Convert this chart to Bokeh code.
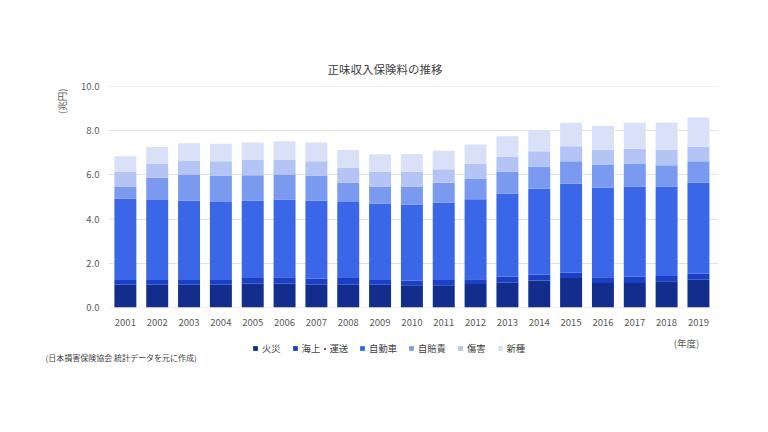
from bokeh.plotting import figure
from bokeh.layouts import column
from bokeh.models import (ColumnDataSource, FixedTicker, NumeralTickFormatter, Range1d,
                          Legend, LegendItem, Title, Label)
from bokeh.embed import file_html
from bokeh.resources import INLINE

years = [2001, 2002, 2003, 2004, 2005, 2006, 2007, 2008, 2009, 2010,
         2011, 2012, 2013, 2014, 2015, 2016, 2017, 2018, 2019]
fire = [1.03, 1.03, 1.03, 1.03, 1.07, 1.07, 1.03, 1.03, 1.03, 1.00,
        1.00, 1.06, 1.12, 1.22, 1.33, 1.10, 1.10, 1.18, 1.25]
marine = [0.21, 0.21, 0.21, 0.21, 0.26, 0.29, 0.28, 0.30, 0.21, 0.22,
          0.24, 0.22, 0.27, 0.27, 0.24, 0.27, 0.29, 0.24, 0.27]
auto = [3.68, 3.62, 3.59, 3.53, 3.50, 3.53, 3.52, 3.44, 3.45, 3.44,
        3.51, 3.62, 3.77, 3.88, 4.03, 4.06, 4.09, 4.06, 4.12]
cali = [0.56, 1.01, 1.19, 1.20, 1.16, 1.13, 1.14, 0.89, 0.79, 0.82,
        0.90, 0.94, 0.98, 1.01, 1.02, 1.04, 1.04, 0.96, 0.98]
injury = [0.66, 0.65, 0.63, 0.65, 0.69, 0.66, 0.65, 0.66, 0.66, 0.66,
          0.61, 0.68, 0.69, 0.69, 0.68, 0.66, 0.67, 0.69, 0.67]
misc = [0.71, 0.75, 0.79, 0.79, 0.79, 0.85, 0.85, 0.81, 0.80, 0.81,
        0.83, 0.86, 0.92, 0.98, 1.06, 1.09, 1.17, 1.24, 1.31]

series_names = ["火災", "海上・運送", "自動車", "自賠責", "傷害", "新種"]
series_keys = ["fire", "marine", "auto", "cali", "injury", "misc"]
colors = ["#122d8c", "#1a40c4", "#3a66e8", "#799aee", "#b4c4f4", "#d9e1f9"]

title_text = "正味収入保険料の推移"
y_unit = "(兆円)"
x_unit = "(年度)"
source_note = "(日本損害保険協会 統計データを元に作成)"
y_ticks = [0, 2, 4, 6, 8, 10]

FONT = "Noto Sans CJK JP"

src = ColumnDataSource(dict(x=years, fire=fire, marine=marine, auto=auto,
                            cali=cali, injury=injury, misc=misc))

xr = Range1d(2000.47, 2019.63)

# ---------------- main chart ----------------
p = figure(width=760, height=334, output_backend="svg", toolbar_location=None,
           x_range=xr, y_range=Range1d(-0.005, 10.005),
           min_border_left=108, min_border_right=42,
           min_border_top=86, min_border_bottom=27)
p.outline_line_color = None
p.background_fill_color = "white"
p.border_fill_color = "white"

p.vbar_stack(series_keys, x="x", width=0.69, source=src, color=colors, line_color=None)

p.title.text = title_text
p.title.align = "left"
p.title.offset = 219
p.title.standoff = 20
p.title.text_font = FONT
p.title.text_font_size = "11.5px"
p.title.text_font_style = "normal"
p.title.text_color = "#404040"

p.xaxis.ticker = FixedTicker(ticks=years)
p.yaxis.ticker = FixedTicker(ticks=y_ticks)
p.yaxis.formatter = NumeralTickFormatter(format="0.0")
for ax in (p.xaxis[0], p.yaxis[0]):
    ax.axis_line_color = None
    ax.major_tick_line_color = None
    ax.minor_tick_line_color = None
    ax.major_tick_out = 0
    ax.major_tick_in = 0
    ax.minor_tick_out = 0
    ax.major_label_text_font = FONT
    ax.major_label_text_font_size = "9.5px"
    ax.major_label_text_color = "#595959"
p.xaxis.major_label_standoff = 11
p.yaxis.major_label_standoff = 9

p.xgrid.grid_line_color = None
p.ygrid.ticker = FixedTicker(ticks=y_ticks)
p.ygrid.grid_line_color = "#e2e2e2"
p.ygrid.grid_line_width = 1

p.add_layout(Title(text=y_unit, align="right", offset=2, standoff=20,
                   text_font=FONT, text_font_size="9.5px", text_font_style="normal",
                   text_color="#595959"), "left")

# ---------------- bottom strip: legend and notes ----------------
q = figure(width=760, height=90, output_backend="svg", toolbar_location=None,
           x_range=Range1d(0, 1), y_range=Range1d(50, 60),
           x_axis_type=None, y_axis_type=None,
           min_border_left=0, min_border_right=0, min_border_top=0, min_border_bottom=69)
q.outline_line_color = None
q.grid.visible = False
q.background_fill_color = "white"
q.border_fill_color = "white"

legend_renderers = q.vbar_stack(series_keys, x="x", width=0.69, source=src,
                                color=colors, line_color=None)
for r in legend_renderers:
    r.visible = False
items = [LegendItem(label=n, renderers=[r]) for n, r in zip(series_names, legend_renderers)]
lg = Legend(items=items, orientation="horizontal", location=(144, 0),
            glyph_width=6, glyph_height=6, label_height=10, label_width=10,
            label_standoff=4, spacing=11, padding=0, margin=0,
            border_line_color=None, background_fill_alpha=0,
            inactive_fill_alpha=0, click_policy="none",
            label_text_font=FONT, label_text_font_size="9.3px",
            label_text_color="#404040")
q.add_layout(lg, "center")

q.add_layout(Label(x=578, y=13, x_units="screen", y_units="screen", text=x_unit,
                   text_align="center", text_baseline="middle", text_font=FONT,
                   text_font_size="9.5px", text_color="#595959"))

note = Title(text=source_note, align="left", offset=-63, vertical_align="top",
             text_font=FONT, text_font_size="8px", text_font_style="normal",
             text_color="#404040")
try:
    note.standoff = -8
except Exception:
    note.standoff = 0
q.add_layout(note, "below")

layout = column(p, q, spacing=0)
open("out.html", "w").write(file_html(layout, INLINE))
